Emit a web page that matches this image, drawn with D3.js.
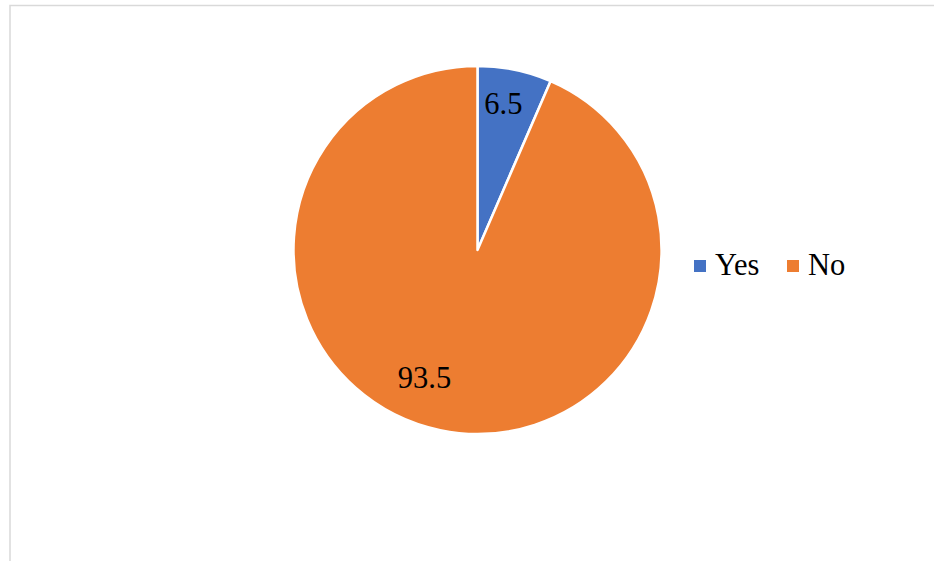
<!DOCTYPE html>
<html>
<head>
<meta charset="utf-8">
<script src="https://cdn.jsdelivr.net/npm/d3@7"></script>
<style>
  body { margin: 0; background: #fff; }
  svg { display: block; }
</style>
</head>
<body>
<div id="chart"></div>
<script>
const width = 934;
const height = 561;

// data
const categories = ["Yes", "No"];
const values = [6.5, 93.5];
const colors = ["#4472C4", "#ED7D31"];

const cx = 477.5, cy = 250, radius = 184;
const serif = "'Liberation Serif', 'Times New Roman', serif";

const svg = d3.select("#chart")
  .append("svg")
  .attr("width", width)
  .attr("height", height)
  .attr("font-family", serif);

// chart area border (only top + left show in the crop)
svg.append("rect")
  .attr("x", 10)
  .attr("y", 5.5)
  .attr("width", 940)
  .attr("height", 600)
  .attr("fill", "none")
  .attr("stroke", "#d9d9d9")
  .attr("stroke-width", 1.5);

const pie = d3.pie().sort(null).value(d => d);
const arcs = pie(values);

const arc = d3.arc().innerRadius(0).outerRadius(radius);

const g = svg.append("g").attr("transform", `translate(${cx},${cy})`);

g.selectAll("path")
  .data(arcs)
  .enter()
  .append("path")
  .attr("d", arc)
  .attr("fill", (d, i) => colors[i])
  .attr("stroke", "#fff")
  .attr("stroke-width", 2.5)
  .attr("stroke-linejoin", "round");

// label placement, roughly like excel's best fit
const labelRadius = [0.81, 0.75];
const labelShift = [-0.03, 0.19];
g.selectAll("text.lbl")
  .data(arcs)
  .enter()
  .append("text")
  .attr("class", "lbl")
  .attr("transform", (d, i) => {
    const a = (d.startAngle + d.endAngle) / 2 + labelShift[i];
    const p = d3.pointRadial(a, radius * labelRadius[i]);
    return `translate(${p[0]},${p[1]})`;
  })
  .attr("text-anchor", "middle")
  .attr("dy", "0.35em")
  .attr("font-size", 30.5)
  .attr("fill", "#000")
  .text(d => d.data);

// legend
const legend = svg.append("g").attr("transform", "translate(694,275)");
const legendX = d3.scaleOrdinal().domain(categories).range([0, 93]);

const item = legend.selectAll("g")
  .data(categories)
  .enter()
  .append("g")
  .attr("transform", d => `translate(${legendX(d)},0)`);

item.append("rect")
  .attr("x", 0)
  .attr("y", -15)
  .attr("width", 12)
  .attr("height", 12)
  .attr("fill", (d, i) => colors[i]);

item.append("text")
  .attr("x", 21)
  .attr("y", 0)
  .attr("font-size", 30.5)
  .attr("fill", "#000")
  .text(d => d);
</script>
</body>
</html>
